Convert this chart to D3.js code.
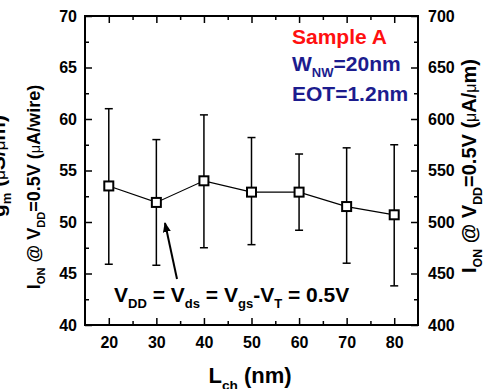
<!DOCTYPE html>
<html>
<head>
<meta charset="utf-8">
<script src="https://cdn.jsdelivr.net/npm/d3@7"></script>
<style>
  body { margin: 0; background: #fff; }
  text { font-family: Arial, "Liberation Sans", sans-serif; font-weight: bold; }
</style>
</head>
<body>
<script>
// channel length (nm) and on-current per wire, with error bar ends
const lch = [20, 30, 40, 50, 60, 70, 80];
const ion = [53.5, 51.9, 54.0, 52.9, 52.9, 51.5, 50.7];
const ionHi = [61.0, 58.0, 60.4, 58.2, 56.6, 57.2, 57.5];
const ionLo = [45.9, 45.8, 47.5, 47.8, 49.2, 46.0, 43.8];

const xTicks = [20, 30, 40, 50, 60, 70, 80];
const xMinor = [25, 35, 45, 55, 65, 75];
const yTicks = [40, 45, 50, 55, 60, 65, 70];
const yMinor = [42.5, 47.5, 52.5, 57.5, 62.5, 67.5];
const y2Ticks = [400, 450, 500, 550, 600, 650, 700];

const W = 484, H = 389;
const m = { left: 85, right: 66, top: 16, bottom: 64 };

const svg = d3.select('body').append('svg')
  .attr('width', W).attr('height', H);

const x = d3.scaleLinear().domain([15, 85]).range([m.left, W - m.right]);
const y = d3.scaleLinear().domain([40, 70]).range([H - m.bottom, m.top]);
const y2 = d3.scaleLinear().domain([400, 700]).range([H - m.bottom, m.top]);

const x0 = m.left, x1 = W - m.right, yb = H - m.bottom, yt = m.top;

// axes: ticks point inward on all four sides
function styleAxis(g) {
  g.select('.domain').remove();
  g.selectAll('.tick line').attr('stroke', '#000').attr('stroke-width', 1.5);
  g.selectAll('.tick text').attr('fill', '#000').style('font-size', '16px');
}

svg.append('g').attr('transform', `translate(0,${yb})`)
  .call(d3.axisBottom(x).tickValues(xTicks).tickSize(-7).tickPadding(12).tickFormat(d3.format('d')))
  .call(styleAxis);
svg.append('g').attr('transform', `translate(0,${yb})`)
  .call(d3.axisBottom(x).tickValues(xMinor).tickSize(-4).tickFormat(''))
  .call(styleAxis);
svg.append('g').attr('transform', `translate(0,${yt})`)
  .call(d3.axisTop(x).tickValues(xTicks).tickSize(-7).tickFormat(''))
  .call(styleAxis);
svg.append('g').attr('transform', `translate(0,${yt})`)
  .call(d3.axisTop(x).tickValues(xMinor).tickSize(-4).tickFormat(''))
  .call(styleAxis);

svg.append('g').attr('transform', `translate(${x0},0)`)
  .call(d3.axisLeft(y).tickValues(yTicks).tickSize(-7).tickPadding(8))
  .call(styleAxis);
svg.append('g').attr('transform', `translate(${x0},0)`)
  .call(d3.axisLeft(y).tickValues(yMinor).tickSize(-4).tickFormat(''))
  .call(styleAxis);
svg.append('g').attr('transform', `translate(${x1},0)`)
  .call(d3.axisRight(y2).tickValues(y2Ticks).tickSize(-7).tickPadding(10))
  .call(styleAxis);
svg.append('g').attr('transform', `translate(${x1},0)`)
  .call(d3.axisRight(y).tickValues(yMinor).tickSize(-4).tickFormat(''))
  .call(styleAxis);

// frame
svg.append('rect')
  .attr('x', x0).attr('y', yt).attr('width', x1 - x0).attr('height', yb - yt)
  .attr('fill', 'none').attr('stroke', '#000').attr('stroke-width', 2);

const pts = lch.map((d, i) => ({ l: d, v: ion[i], hi: ionHi[i], lo: ionLo[i] }));

// error bars
const eb = svg.append('g').attr('stroke', '#000').attr('stroke-width', 1.5);
eb.selectAll('line.v').data(pts).join('line')
  .attr('x1', d => x(d.l)).attr('x2', d => x(d.l))
  .attr('y1', d => y(d.hi)).attr('y2', d => y(d.lo));
eb.selectAll('line.t').data(pts).join('line')
  .attr('x1', d => x(d.l) - 4).attr('x2', d => x(d.l) + 4)
  .attr('y1', d => y(d.hi)).attr('y2', d => y(d.hi));
eb.selectAll('line.b').data(pts).join('line')
  .attr('x1', d => x(d.l) - 4).attr('x2', d => x(d.l) + 4)
  .attr('y1', d => y(d.lo)).attr('y2', d => y(d.lo));

// connecting line
svg.append('path').datum(pts)
  .attr('fill', 'none').attr('stroke', '#000').attr('stroke-width', 1.2)
  .attr('d', d3.line().x(d => x(d.l)).y(d => y(d.v)));

// square markers
svg.selectAll('rect.mk').data(pts).join('rect')
  .attr('x', d => x(d.l) - 4.5).attr('y', d => y(d.v) - 4.5)
  .attr('width', 9).attr('height', 9)
  .attr('fill', '#fff').attr('stroke', '#000').attr('stroke-width', 2);

// helper for text with subscripts: parts = [[text, kind], ...]
// kind: 0 normal, 1 subscript, 2 small greek letter
function rich(t, parts, size) {
  let down = false;
  parts.forEach(([s, kind]) => {
    const ts = t.append('tspan').text(s);
    if (kind === 1) {
      ts.style('font-size', (size * 0.62) + 'px');
      if (!down) { ts.attr('dy', size * 0.3); down = true; }
    } else {
      if (down) { ts.attr('dy', -size * 0.3); down = false; }
      if (kind === 2) ts.style('font-size', (size * 0.8) + 'px').style('font-weight', 'normal');
    }
  });
  return t;
}

// legend-like notes
svg.append('text').attr('x', 292).attr('y', 44).attr('fill', '#ff1010')
  .style('font-size', '21px').text('Sample A');
rich(svg.append('text').attr('x', 292).attr('y', 71).attr('fill', '#1c1c8e').style('font-size', '21px'),
  [['W', 0], ['NW', 1], ['=20nm', 0]], 21);
svg.append('text').attr('x', 292).attr('y', 101).attr('fill', '#1c1c8e')
  .style('font-size', '21px').text('EOT=1.2nm');

// annotation with arrow
rich(svg.append('text').attr('x', 114).attr('y', 302).attr('fill', '#000').style('font-size', '21px'),
  [['V', 0], ['DD', 1], [' = V', 0], ['ds', 1], [' = V', 0], ['gs', 1],
   ['-V', 0], ['T', 1], [' = 0.5V', 0]], 21);

svg.append('defs').append('marker')
  .attr('id', 'ah').attr('viewBox', '0 0 10 10').attr('refX', 9).attr('refY', 5)
  .attr('markerWidth', 5).attr('markerHeight', 5).attr('orient', 'auto')
  .append('path').attr('d', 'M0,1 L10,5 L0,9 Z').attr('fill', '#000');
svg.append('line')
  .attr('x1', 177).attr('y1', 279).attr('x2', 165).attr('y2', 223)
  .attr('stroke', '#000').attr('stroke-width', 2).attr('marker-end', 'url(#ah)');

// axis titles
rich(svg.append('text').attr('x', 250).attr('y', 383).attr('text-anchor', 'middle').style('font-size', '22px'),
  [['L', 0], ['ch', 1], [' (nm)', 0]], 22);

rich(svg.append('text').attr('transform', 'translate(40,187) rotate(-90)').attr('text-anchor', 'middle')
  .style('font-size', '18px'),
  [['I', 0], ['ON', 1], [' @ V', 0], ['DD', 1], ['=0.5V (', 0], ['\u03bc', 2], ['A/wire)', 0]], 18);
rich(svg.append('text').attr('transform', 'translate(5,166) rotate(-90)').attr('text-anchor', 'middle')
  .style('font-size', '21px'),
  [['g', 0], ['m', 1], [' (', 0], ['\u03bc', 2], ['S/', 0], ['\u03bc', 2], ['m)', 0]], 21);

rich(svg.append('text').attr('transform', 'translate(476,166) rotate(-90)').attr('text-anchor', 'middle')
  .style('font-size', '20px'),
  [['I', 0], ['ON', 1], [' @ V', 0], ['DD', 1], ['=0.5V (', 0], ['\u03bc', 2], ['A/', 0], ['\u03bc', 2], ['m)', 0]], 20);
</script>
</body>
</html>
